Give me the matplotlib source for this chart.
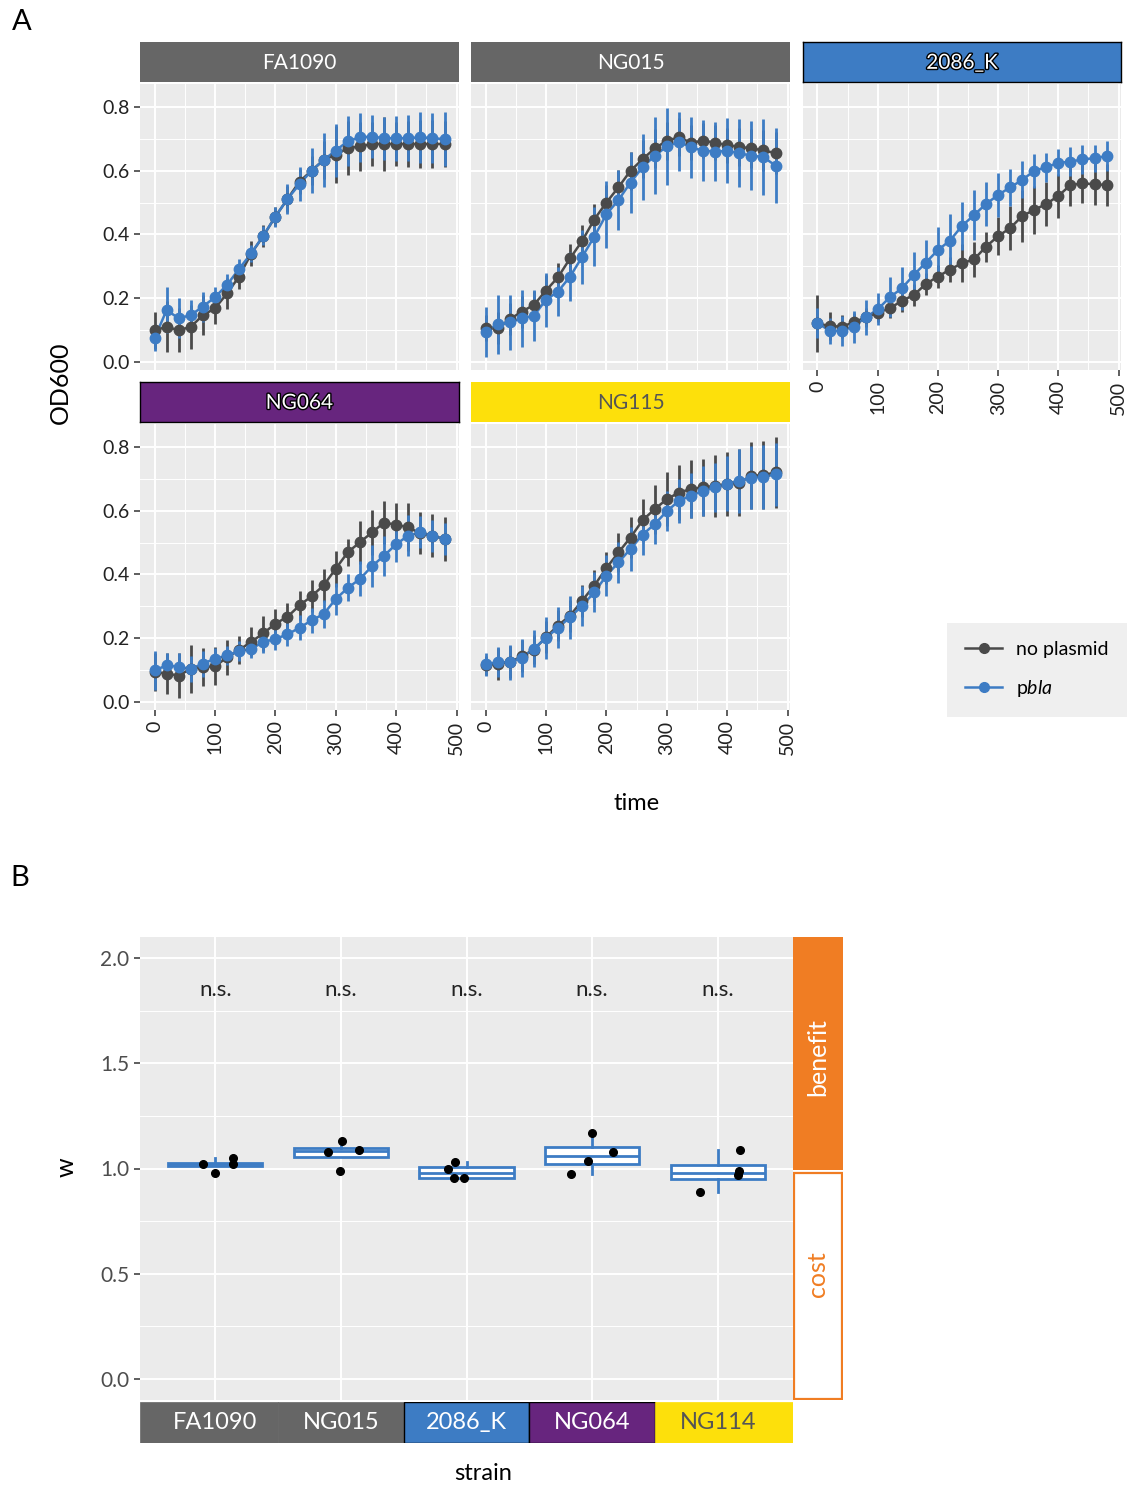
import matplotlib
matplotlib.use('Agg')
import matplotlib.pyplot as plt
import matplotlib.patheffects as pe
from matplotlib.lines import Line2D
from matplotlib.patches import Rectangle
from matplotlib.ticker import MultipleLocator

plt.rcParams['font.family'] = ['Lato', 'DejaVu Sans']
plt.rcParams['mathtext.fontset'] = 'custom'
plt.rcParams['mathtext.it'] = 'Lato:italic'
plt.rcParams['mathtext.rm'] = 'Lato'

# ---- data: panel A (growth curves, mean +/- sd) ----
time = [0, 20, 40, 60, 80, 100, 120, 140, 160, 180, 200, 220, 240,
        260, 280, 300, 320, 340, 360, 380, 400, 420, 440, 460, 480]

fa1090_np_mean = [0.10, 0.11, 0.10, 0.11, 0.147, 0.168, 0.215, 0.268, 0.34, 0.395, 0.456, 0.511, 0.566,
                  0.60, 0.634, 0.65, 0.671, 0.676, 0.684, 0.684, 0.684, 0.684, 0.684, 0.684, 0.684]
fa1090_np_sd = [0.058, 0.08, 0.068, 0.068, 0.063, 0.05, 0.05, 0.04, 0.04, 0.035, 0.03, 0.04, 0.04,
                0.045, 0.06, 0.089, 0.084, 0.078, 0.069, 0.084, 0.069, 0.073, 0.076, 0.076, 0.073]
fa1090_pb_mean = [0.074, 0.163, 0.137, 0.147, 0.174, 0.203, 0.242, 0.292, 0.341, 0.396, 0.456, 0.511, 0.558,
                  0.60, 0.634, 0.663, 0.693, 0.705, 0.707, 0.702, 0.702, 0.702, 0.705, 0.702, 0.699]
fa1090_pb_sd = [0.04, 0.071, 0.063, 0.047, 0.047, 0.031, 0.033, 0.03, 0.026, 0.03, 0.031, 0.046, 0.054,
                0.07, 0.084, 0.084, 0.078, 0.077, 0.068, 0.068, 0.07, 0.073, 0.08, 0.078, 0.084]

ng015_np_mean = [0.106, 0.106, 0.134, 0.158, 0.179, 0.224, 0.266, 0.325, 0.38, 0.447, 0.50, 0.548, 0.60,
                 0.636, 0.67, 0.694, 0.705, 0.688, 0.694, 0.688, 0.680, 0.675, 0.670, 0.664, 0.655]
ng015_np_sd = [0.04, 0.05, 0.05, 0.05, 0.045, 0.05, 0.045, 0.045, 0.05, 0.05, 0.055, 0.055, 0.06,
               0.06, 0.06, 0.06, 0.06, 0.055, 0.055, 0.055, 0.055, 0.06, 0.06, 0.065, 0.065]
ng015_pb_mean = [0.095, 0.118, 0.124, 0.137, 0.145, 0.195, 0.221, 0.268, 0.33, 0.393, 0.463, 0.508, 0.563,
                 0.611, 0.647, 0.676, 0.691, 0.673, 0.663, 0.66, 0.662, 0.655, 0.647, 0.643, 0.616]
ng015_pb_sd = [0.078, 0.093, 0.085, 0.09, 0.08, 0.085, 0.077, 0.077, 0.084, 0.093, 0.106, 0.095, 0.097,
               0.103, 0.12, 0.12, 0.092, 0.095, 0.095, 0.093, 0.102, 0.107, 0.108, 0.12, 0.118]

k2086_np_mean = [0.121, 0.113, 0.111, 0.124, 0.14, 0.155, 0.168, 0.192, 0.21, 0.245, 0.268, 0.29, 0.31,
                 0.322, 0.362, 0.395, 0.42, 0.458, 0.477, 0.496, 0.521, 0.555, 0.56, 0.558, 0.555]
k2086_np_sd = [0.089, 0.045, 0.035, 0.03, 0.03, 0.03, 0.03, 0.035, 0.035, 0.035, 0.035, 0.04, 0.06,
               0.055, 0.047, 0.06, 0.07, 0.08, 0.075, 0.07, 0.07, 0.065, 0.06, 0.065, 0.065]
k2086_pb_mean = [0.123, 0.098, 0.098, 0.111, 0.14, 0.165, 0.203, 0.231, 0.273, 0.312, 0.351, 0.381, 0.427,
                 0.461, 0.496, 0.524, 0.548, 0.571, 0.60, 0.611, 0.625, 0.628, 0.636, 0.639, 0.646]
k2086_pb_sd = [0.048, 0.04, 0.047, 0.05, 0.055, 0.05, 0.063, 0.068, 0.073, 0.07, 0.074, 0.082, 0.076,
               0.077, 0.07, 0.069, 0.058, 0.058, 0.053, 0.045, 0.042, 0.045, 0.045, 0.042, 0.048]

ng064_np_mean = [0.094, 0.089, 0.083, 0.104, 0.11, 0.112, 0.14, 0.163, 0.189, 0.215, 0.246, 0.267, 0.303,
                 0.332, 0.366, 0.418, 0.47, 0.501, 0.532, 0.563, 0.556, 0.548, 0.529, 0.522, 0.511]
ng064_np_sd = [0.06, 0.065, 0.07, 0.075, 0.06, 0.06, 0.055, 0.045, 0.045, 0.055, 0.045, 0.045, 0.045,
               0.05, 0.052, 0.057, 0.042, 0.068, 0.07, 0.068, 0.068, 0.075, 0.066, 0.067, 0.068]
ng064_pb_mean = [0.099, 0.115, 0.11, 0.104, 0.12, 0.136, 0.146, 0.16, 0.167, 0.188, 0.198, 0.212, 0.233,
                 0.256, 0.276, 0.323, 0.358, 0.386, 0.426, 0.459, 0.495, 0.522, 0.532, 0.522, 0.511]
ng064_pb_sd = [0.062, 0.04, 0.045, 0.04, 0.04, 0.035, 0.03, 0.03, 0.03, 0.035, 0.035, 0.035, 0.04,
               0.04, 0.045, 0.05, 0.042, 0.055, 0.065, 0.063, 0.055, 0.065, 0.05, 0.05, 0.05]

ng115_np_mean = [0.115, 0.12, 0.125, 0.143, 0.164, 0.203, 0.24, 0.271, 0.318, 0.365, 0.42, 0.469, 0.516,
                 0.57, 0.605, 0.636, 0.657, 0.668, 0.673, 0.678, 0.683, 0.688, 0.709, 0.712, 0.72]
ng115_np_sd = [0.03, 0.05, 0.05, 0.05, 0.045, 0.05, 0.05, 0.05, 0.05, 0.05, 0.05, 0.06, 0.065,
               0.068, 0.077, 0.085, 0.085, 0.09, 0.09, 0.097, 0.1, 0.105, 0.105, 0.107, 0.112]
ng115_pb_mean = [0.118, 0.125, 0.125, 0.139, 0.167, 0.201, 0.233, 0.266, 0.302, 0.344, 0.396, 0.438, 0.48,
                 0.525, 0.558, 0.598, 0.631, 0.647, 0.662, 0.673, 0.685, 0.694, 0.704, 0.706, 0.714]
ng115_pb_sd = [0.035, 0.047, 0.055, 0.06, 0.058, 0.065, 0.065, 0.068, 0.062, 0.063, 0.064, 0.065, 0.07,
               0.063, 0.063, 0.063, 0.068, 0.07, 0.078, 0.078, 0.086, 0.1, 0.1, 0.1, 0.098]

# ---- data: panel B (relative fitness w) ----
strains_b = ['FA1090', 'NG015', '2086_K', 'NG064', 'NG114']
w_fa1090 = [1.02, 0.98, 1.05, 1.02]
w_ng015 = [1.078, 1.13, 1.087, 0.99]
w_2086k = [1.0, 1.03, 0.955, 0.955]
w_ng064 = [1.17, 1.08, 1.035, 0.975]
w_ng114 = [1.09, 0.99, 0.97, 0.89]
signif = ['n.s.', 'n.s.', 'n.s.', 'n.s.', 'n.s.']

# horizontal jitter of the points (in category units)
jitter = [[-0.10, 0.0, 0.14, 0.14],
          [-0.10, 0.01, 0.14, -0.01],
          [-0.15, -0.09, -0.10, -0.02],
          [0.0, 0.17, -0.03, -0.17],
          [0.18, 0.17, 0.16, -0.14]]

GREY = '#4A4A4A'
BLUE = '#3D7CC4'
ORANGE = '#F07D23'
PANEL = '#EBEBEB'

W, H = 1131, 1486
fig = plt.figure(figsize=(W / 100, H / 100), dpi=100)


def px(x0, y0, x1, y1):
    return [x0 / W, 1 - y1 / H, (x1 - x0) / W, (y1 - y0) / H]


def style(ax):
    ax.set_facecolor(PANEL)
    for s in ax.spines.values():
        s.set_visible(False)
    ax.set_axisbelow(True)
    ax.grid(which='major', color='white', lw=1.4)
    ax.grid(which='minor', color='white', lw=0.7)
    ax.tick_params(which='minor', length=0)
    ax.tick_params(which='major', length=4, width=1.1, color='#333333',
                   labelsize=14, labelcolor='#222222')


def strip(rect, label, face, tcolor, outline, border):
    s = fig.add_axes(rect)
    s.set_facecolor(face)
    s.set_xticks([])
    s.set_yticks([])
    for sp in s.spines.values():
        sp.set_visible(border)
        sp.set_color('black')
        sp.set_linewidth(1.0)
    t = s.text(0.5, 0.48, label, ha='center', va='center', fontsize=15, color=tcolor,
               transform=s.transAxes)
    if outline:
        t.set_path_effects([pe.withStroke(linewidth=2, foreground='black')])


panels = [
    ('FA1090', '#666666', 'white', False, False, (140, 84, 459, 370), (140, 42, 459, 82),
     fa1090_np_mean, fa1090_np_sd, fa1090_pb_mean, fa1090_pb_sd, False, True),
    ('NG015', '#666666', 'white', False, False, (471, 84, 790, 370), (471, 42, 790, 82),
     ng015_np_mean, ng015_np_sd, ng015_pb_mean, ng015_pb_sd, False, False),
    ('2086_K', '#3D7CC4', 'white', True, True, (803, 84, 1121, 370), (803, 42, 1121, 82),
     k2086_np_mean, k2086_np_sd, k2086_pb_mean, k2086_pb_sd, True, False),
    ('NG064', '#67257E', 'white', True, True, (140, 424, 459, 710), (140, 382, 459, 422),
     ng064_np_mean, ng064_np_sd, ng064_pb_mean, ng064_pb_sd, True, True),
    ('NG115', '#FDE00B', '#555555', False, False, (471, 424, 790, 710), (471, 382, 790, 422),
     ng115_np_mean, ng115_np_sd, ng115_pb_mean, ng115_pb_sd, True, False),
]

for (name, face, tcol, outline, border, box, sbox,
     npm, nps, pbm, pbs, showx, showy) in panels:
    ax = fig.add_axes(px(*box))
    style(ax)
    for m, sd, c in ((npm, nps, GREY), (pbm, pbs, BLUE)):
        ax.plot(time, m, color=c, lw=1.8, zorder=3)
        ax.vlines(time, [a - b for a, b in zip(m, sd)], [a + b for a, b in zip(m, sd)],
                  color=c, lw=2.0, zorder=3)
        ax.plot(time, m, 'o', color=c, ms=7.5, zorder=4)
    ax.set_xlim(-24, 504)
    ax.set_ylim(-0.025, 0.872)
    ax.set_xticks([0, 100, 200, 300, 400, 500])
    ax.xaxis.set_minor_locator(MultipleLocator(50))
    ax.set_yticks([0.0, 0.2, 0.4, 0.6, 0.8])
    ax.yaxis.set_minor_locator(MultipleLocator(0.1))
    if showx:
        ax.set_xticklabels(['0', '100', '200', '300', '400', '500'], rotation=90)
    else:
        ax.tick_params(axis='x', length=0, labelbottom=False)
    if showy:
        ax.set_yticklabels(['0.0', '0.2', '0.4', '0.6', '0.8'])
    else:
        ax.tick_params(axis='y', length=0, labelleft=False)
    strip(px(*sbox), name, face, tcol, outline, border)

fig.text(22 / W, 1 - 22 / H, 'A', fontsize=21, ha='center', va='center')
fig.text(60 / W, 1 - 383 / H, 'OD600', fontsize=18, rotation=90, ha='center', va='center')
fig.text(637 / W, 1 - 804 / H, 'time', fontsize=17, ha='center', va='center')

handles = [Line2D([], [], color=GREY, marker='o', ms=7, lw=1.8),
           Line2D([], [], color=BLUE, marker='o', ms=7, lw=1.8)]
leg = fig.legend(handles, ['no plasmid', 'p$\\it{bla}$'], loc='center',
                 bbox_to_anchor=(1037 / W, 1 - 670 / H), frameon=True, fontsize=14,
                 handlelength=1.9, labelspacing=1.0, borderpad=0.65, handletextpad=0.7)
leg.get_frame().set_facecolor(PANEL)
leg.get_frame().set_edgecolor('none')
leg.get_frame().set_boxstyle('square')

# ---- panel B ----
fig.text(20 / W, 1 - 878 / H, 'B', fontsize=21, ha='center', va='center')
axb = fig.add_axes(px(140, 937, 793, 1400))
style(axb)
pos = [1, 2, 3, 4, 5]
wvals = [w_fa1090, w_ng015, w_2086k, w_ng064, w_ng114]
bp = axb.boxplot(wvals, positions=pos, widths=0.75, showfliers=False, showcaps=False,
                 patch_artist=True, manage_ticks=False, zorder=3)
for b in bp['boxes']:
    b.set_facecolor('white')
    b.set_edgecolor(BLUE)
    b.set_linewidth(2.0)
for key in ('medians', 'whiskers'):
    for ln in bp[key]:
        ln.set_color(BLUE)
        ln.set_linewidth(2.0)
for p, vals, jit in zip(pos, wvals, jitter):
    axb.plot([p + j for j in jit], vals, 'o', color='black', ms=5.5, zorder=5)
for p, s in zip(pos, signif):
    axb.text(p, 1.85, s, ha='center', va='center', fontsize=16, color='#222222')
axb.set_xlim(0.4, 5.6)
axb.set_ylim(-0.1, 2.1)
axb.set_xticks(pos)
axb.tick_params(axis='x', length=0, labelbottom=False)
axb.set_yticks([0.0, 0.5, 1.0, 1.5, 2.0])
axb.set_yticklabels(['0.0', '0.5', '1.0', '1.5', '2.0'])
axb.yaxis.set_minor_locator(MultipleLocator(0.25))
axb.tick_params(axis='y', labelcolor='#4D4D4D', labelsize=15)
fig.text(66 / W, 1 - 1167 / H, 'w', fontsize=18, rotation=90, ha='center', va='center')

# right strip: benefit / cost
axr = fig.add_axes(px(793, 937, 843, 1400))
axr.set_xlim(0, 1)
axr.set_ylim(-0.1, 2.1)
axr.axis('off')
axr.add_patch(Rectangle((0, 0.995), 1, 1.105, facecolor=ORANGE, edgecolor='none'))
axr.add_patch(Rectangle((0.02, -0.095), 0.96, 1.075, facecolor='white', edgecolor=ORANGE, lw=1.6))
axr.text(0.5, 1.53, 'benefit', rotation=90, ha='center', va='center', fontsize=18, color='white')
axr.text(0.5, 0.5, 'cost', rotation=90, ha='center', va='center', fontsize=18, color=ORANGE)

# bottom strip: strain groups
strip_face = ['#666666', '#666666', '#3D7CC4', '#67257E', '#FDE00B']
strip_text = ['white', 'white', 'white', 'white', '#555555']
axs = fig.add_axes(px(140, 1402, 793, 1443))
axs.set_xlim(0.4, 5.6)
axs.set_ylim(0, 1)
axs.axis('off')
edges = [0.4, 1.5, 2.5, 3.5, 4.5, 5.6]
for i in range(5):
    bordered = strip_face[i] in ('#3D7CC4', '#67257E')
    axs.add_patch(Rectangle((edges[i], 0), edges[i + 1] - edges[i], 1, facecolor=strip_face[i],
                            edgecolor='black' if bordered else strip_face[i], lw=1.0 if bordered else 0.5))
    axs.text(pos[i], 0.5, strains_b[i], ha='center', va='center', fontsize=17, color=strip_text[i])
fig.text(483 / W, 1 - 1474 / H, 'strain', fontsize=17, ha='center', va='center')

fig.savefig('out.png', dpi=100)
